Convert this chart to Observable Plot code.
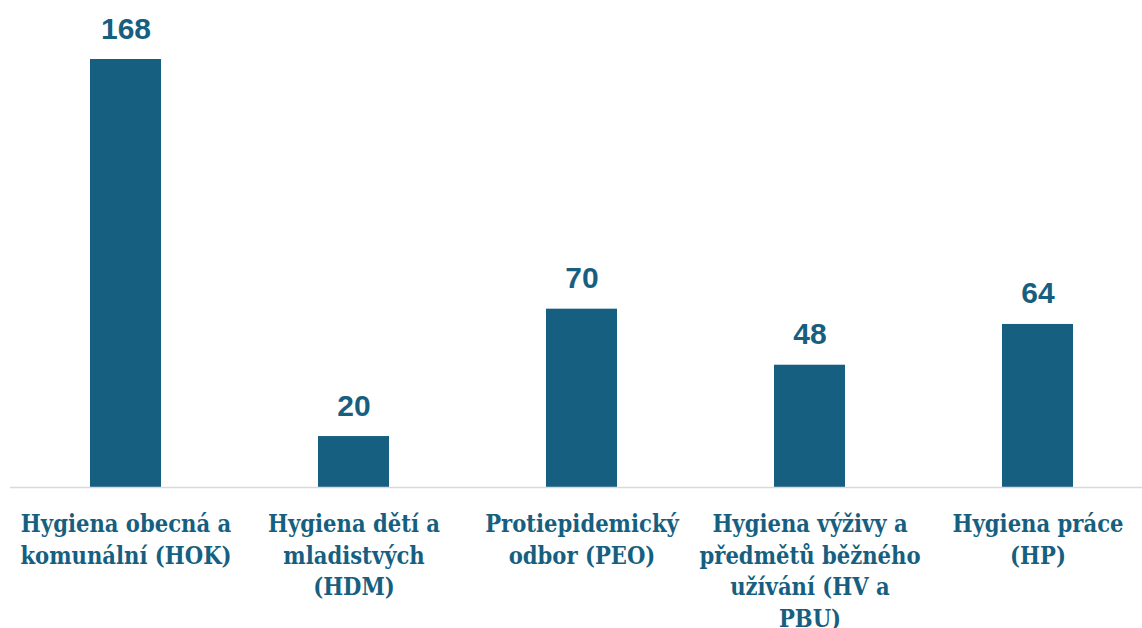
<!DOCTYPE html>
<html>
<head>
<meta charset="utf-8">
<script src="https://cdn.jsdelivr.net/npm/d3@7"></script>
<script src="https://cdn.jsdelivr.net/npm/@observablehq/plot@0.6"></script>
<style>
  html, body { margin: 0; padding: 0; background: #fff; }
  #chart svg { display: block; }
  #chart svg g.ticklbl, #chart svg g.ticklbl text {
    font-family: "DejaVu Serif Condensed", "DejaVu Serif", serif !important;
    font-stretch: condensed;
  }
</style>
</head>
<body>
<div id="chart"></div>
<script>
const categories = [
  "Hygiena obecná a komunální (HOK)",
  "Hygiena dětí a mladistvých (HDM)",
  "Protiepidemický odbor (PEO)",
  "Hygiena výživy a předmětů běžného užívání (HV a PBU)",
  "Hygiena práce (HP)"
];
const tickLabels = [
  "Hygiena obecná a\nkomunální (HOK)",
  "Hygiena dětí a\nmladistvých\n(HDM)",
  "Protiepidemický\nodbor (PEO)",
  "Hygiena výživy a\npředmětů běžného\nužívání (HV a\nPBU)",
  "Hygiena práce\n(HP)"
];
const values = [168, 20, 70, 48, 64];

const data = categories.map((c, i) => ({category: c, value: values[i], tick: tickLabels[i]}));
const color = "#175f80";

const chart = Plot.plot({
  width: 1142,
  height: 628,
  marginTop: 59,
  marginBottom: 141,
  marginLeft: 10,
  marginRight: 0,
  style: {background: "#fff", overflow: "visible"},
  x: {domain: categories, range: [10, 1153.5], paddingInner: 0.69, paddingOuter: 0.345, label: null, axis: null},
  y: {domain: [0, 168], axis: null},
  marks: [
    Plot.barY(data, {x: "category", y: "value", fill: color}),
    Plot.ruleY([0], {stroke: "#d9d9d9", strokeWidth: 1.6}),
    Plot.text(data, {
      x: "category", y: "value", text: d => String(d.value),
      lineAnchor: "bottom", dy: -21,
      fill: color, fontSize: 30, fontWeight: "bold",
      fontFamily: "Liberation Sans, Arial, sans-serif"
    }),
    Plot.text(data, {
      x: "category", text: "tick", frameAnchor: "bottom",
      lineAnchor: "top", dy: 22.5, lineHeight: 1.34,
      fill: color, fontSize: 23.5, fontWeight: "bold",
      fontFamily: "DejaVu Serif Condensed", className: "ticklbl"
    })
  ]
});
document.getElementById("chart").appendChild(chart);
</script>
</body>
</html>
